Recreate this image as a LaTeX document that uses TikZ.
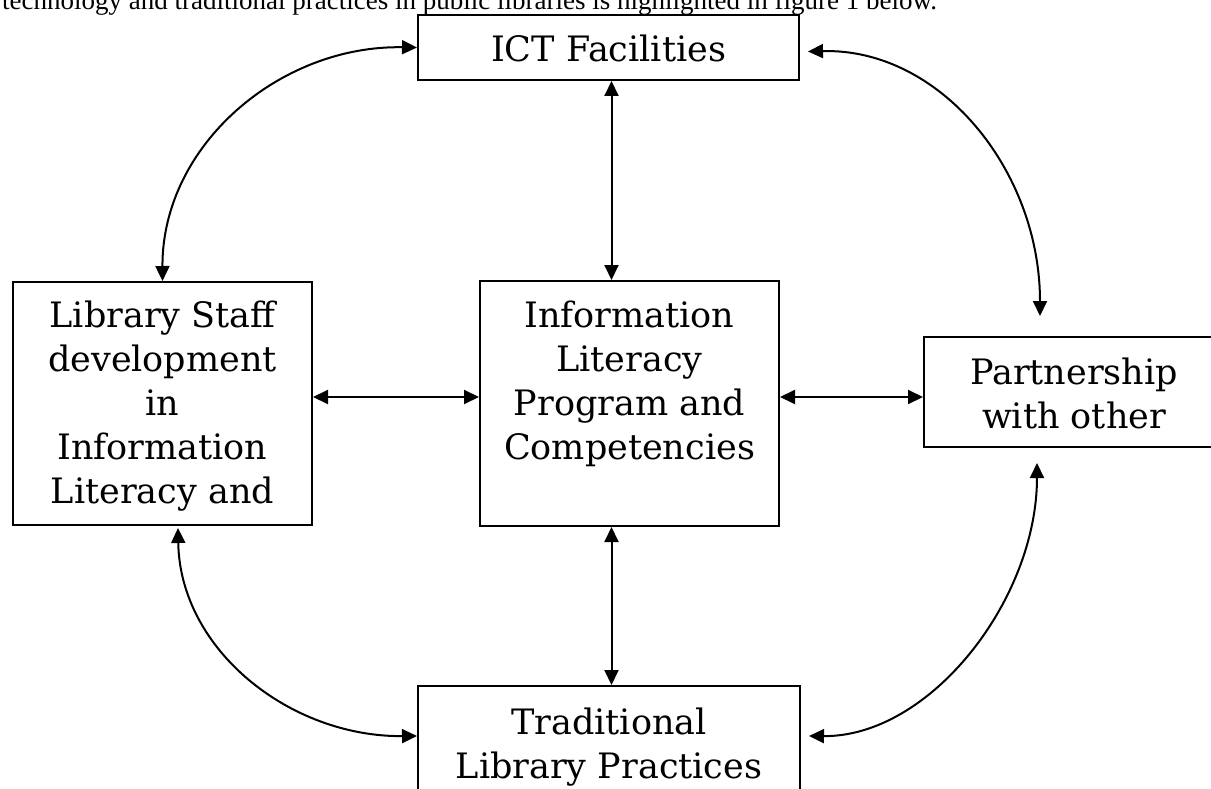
\documentclass[tikz,border=0pt]{standalone}
\usepackage{fontspec}
\setmainfont{Liberation Serif}
\newfontfamily\boxfont{DejaVu Serif}
\usetikzlibrary{arrows.meta,calc}
\begin{document}
\begin{tikzpicture}[x=1pt,y=-1pt,
  box/.style={draw, line width=2pt, rectangle, inner sep=0pt},
  lbl/.style={anchor=base, inner sep=0pt, font=\boxfont\fontsize{35}{44}\selectfont},
  link/.style={line width=2pt, {Triangle[length=15pt,width=14pt]}-{Triangle[length=15pt,width=14pt]}}]
\useasboundingbox (0,0) rectangle (1211,789);
\clip (0,0) rectangle (1211,789);
% intro sentence (cut at top)
\node[anchor=base west, inner sep=0pt, font=\fontsize{27}{30}\selectfont] (intro) at (2,10)
  {technology and traditional practices in public libraries is highlighted in figure 1 below.};
% boxes
\node[box, minimum width=381pt, minimum height=65pt] (ict) at (608.5,47.5) {};
\node[box, minimum width=299pt, minimum height=243pt] (staff) at (162.5,403.5) {};
\node[box, minimum width=299pt, minimum height=245pt] (ilp) at (629.5,403.5) {};
\node[box, minimum width=300pt, minimum height=110pt] (part) at (1074,392) {};
\node[box, minimum width=382pt, minimum height=165pt] (trad) at (609,768.5) {};
% texts
\node[lbl] (ict-t) at (608.5,62) {ICT Facilities};
\node[lbl] (staff-t1) at (162.5,327) {Library Staff};
\node[lbl] (staff-t2) at (162.5,371) {development};
\node[lbl] (staff-t3) at (162.5,415) {in};
\node[lbl] (staff-t4) at (162.5,459) {Information};
\node[lbl] (staff-t5) at (162.5,503) {Literacy and};
\node[lbl] (ilp-t1) at (629.5,327) {Information};
\node[lbl] (ilp-t2) at (629.5,371) {Literacy};
\node[lbl] (ilp-t3) at (629.5,415) {Program and};
\node[lbl] (ilp-t4) at (629.5,459) {Competencies};
\node[lbl] (part-t1) at (1074,384) {Partnership};
\node[lbl] (part-t2) at (1074,428) {with other};
\node[lbl] (trad-t1) at (609,734) {Traditional};
\node[lbl] (trad-t2) at (609,778) {Library Practices};
% straight connectors
\draw[link] ($(ict.south)+(3,0)$) -- ($(ict.south |- ilp.north)+(3,0)$);
\draw[link] ($(ilp.south -| ict.south)+(3,0)$) -- ($(ict.south |- trad.north)+(3,0)$);
\draw[link] ($(staff.east)+(0,-6.5)$) -- ($(ilp.west)+(0,-6.5)$);
\draw[link] ($(ilp.east)+(0,-6.5)$) -- ($(part.west)+(0,5)$);
% curved connectors
\draw[link] (ict.west) .. controls (280,45) and (162,145) .. (staff.north);
\draw[link] ($(ict.east)+(8,4)$) .. controls (940,48) and (1040,170) .. ($(part.north)+(-34,-20)$);
\draw[link] ($(staff.south)+(15.5,2)$) .. controls (180,650) and (290,737) .. ($(trad.north west)+(0,51)$);
\draw[link] ($(trad.north east)+(8,51)$) .. controls (930,737) and (1037,600) .. ($(part.south)+(-37,15)$);
\end{tikzpicture}
\end{document}
